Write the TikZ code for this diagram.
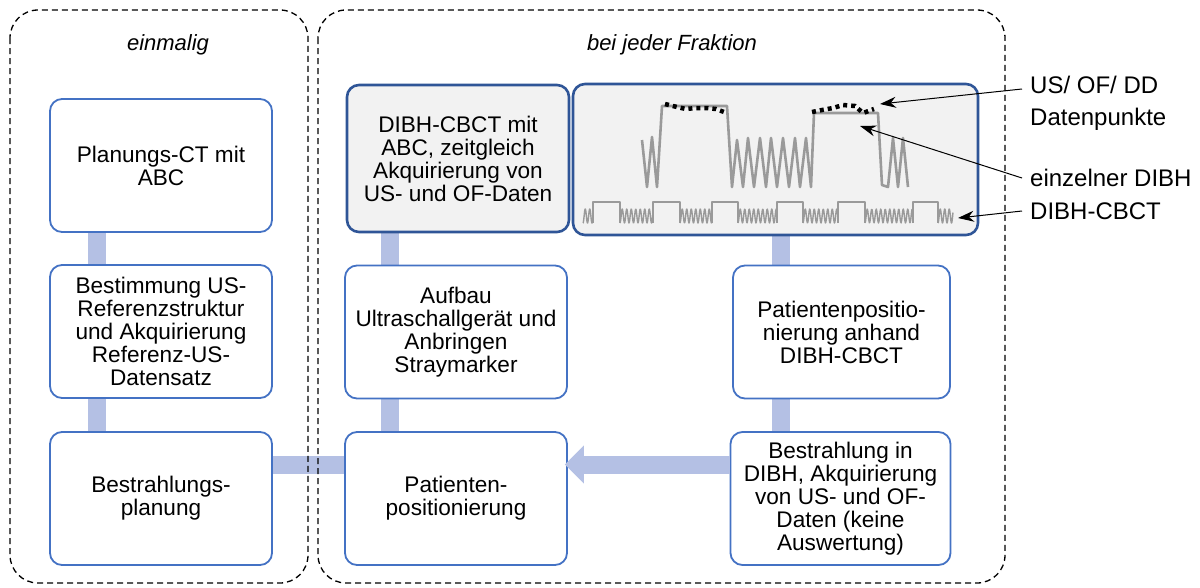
\documentclass[tikz,border=0pt]{standalone}
\usepackage{fontspec}
\setmainfont{Liberation Sans}
\usetikzlibrary{arrows.meta}
\definecolor{boxblue}{HTML}{4472C4}
\definecolor{darkblue}{HTML}{2F5597}
\definecolor{linkblue}{HTML}{B4C0E4}
\definecolor{panelgray}{HTML}{F2F2F2}
\definecolor{wavegray}{HTML}{9A9A9A}
\pgfdeclarelayer{background}
\pgfsetlayers{background,main}
\tikzset{
  container/.style={draw=black, line width=1.3pt, dash pattern=on 6pt off 4pt, rounded corners=28pt},
  stepbox/.style={draw=boxblue, line width=1.8pt, fill=white, rounded corners=12pt, align=center, inner sep=0pt,
    minimum width=222pt, minimum height=133pt, font=\fontsize{22.6}{23}\selectfont},
  keybox/.style={stepbox, draw=darkblue, line width=2.6pt, fill=panelgray},
  link/.style={draw=linkblue, line width=18pt},
  fatarrow/.style={draw=linkblue, line width=18pt, -{Triangle[width=37pt,length=19pt]}},
  title/.style={font=\fontsize{22}{26}\selectfont\itshape},
  lbl/.style={font=\fontsize{24}{32}\selectfont, anchor=west, align=left, inner sep=0pt},
  pointer/.style={draw=black, line width=1pt, -{Stealth[length=16pt,width=11pt]}},
  wave/.style={draw=wavegray, line width=2.6pt, line join=round},
  cbct/.style={draw=wavegray, line width=1.4pt, line join=round},
  dots/.style={draw=black, line width=4.5pt, dash pattern=on 4pt off 4pt}
}
\begin{document}
\begin{tikzpicture}[x=1pt,y=-1pt]
\useasboundingbox (0,0) rectangle (1200,587);

% containers
\draw[container] (10,10) rectangle (308,583);
\draw[container] (318,10) rectangle (1005,583);
\node[title] (t1) at (168,45) {einmalig};
\node[title] (t2) at (672,45) {bei jeder Fraktion};

% left column
\node[stepbox] (plan) at (161,165.5) {Planungs-CT mit\\ABC};
\node[stepbox] (ref) at (161,331.5) {Bestimmung US-\\Referenzstruktur\\und Akquirierung\\Referenz-US-\\Datensatz};
\node[stepbox] (bplan) at (161,498.5) {Bestrahlungs-\\planung};

% middle column
\node[keybox, minimum height=147pt] (cbct) at (458,158.5) {DIBH-CBCT mit\\ABC, zeitgleich\\Akquirierung von\\US- und OF-Daten};
\node[stepbox] (aufbau) at (456,332) {Aufbau\\Ultraschallgerät und\\Anbringen\\Straymarker};
\node[stepbox] (ppos) at (456,498.5) {Patienten-\\positionierung};

% right column
\node[keybox, minimum width=405pt, minimum height=151pt] (wavebox) at (775.5,159.5) {};
\node[stepbox, minimum width=217pt] (ppos2) at (841.5,332) {Patientenpositio-\\nierung anhand\\DIBH-CBCT};
\node[stepbox, minimum width=220pt] (best) at (840.5,498.5) {Bestrahlung in\\DIBH, Akquirierung\\von US- und OF-\\Daten (keine\\Auswertung)};

% connectors
\coordinate (xl) at (97,0);
\coordinate (xm) at (390,0);
\coordinate (xr) at (781,0);
\begin{pgfonlayer}{background}
\fill[white] (0,0) rectangle (1200,587);
\draw[link] (plan.south -| xl) -- (ref.north -| xl);
\draw[link] (ref.south -| xl) -- (bplan.north -| xl);
\draw[link] (cbct.south -| xm) -- (aufbau.north -| xm);
\draw[link] (aufbau.south -| xm) -- (ppos.north -| xm);
\draw[link] (wavebox.south -| xr) -- (ppos2.north -| xr);
\draw[link] (ppos2.south -| xr) -- (best.north -| xr);
\draw[link] ([yshift=34]bplan.east) -- ([yshift=34]ppos.west);
\end{pgfonlayer}
\draw[fatarrow, shorten >=-3pt] ([yshift=34]best.west) -- ([yshift=34]ppos.east);

% waveform
\draw[wave] (642,140) -- (647,187) -- (652,137) -- (657,187) -- (662,106) -- (727,106) -- (732,187)
  -- (737,140) -- (743,187) -- (748,138) -- (754,187) -- (760,138) -- (766,187) -- (771,138) -- (777,187)
  -- (783,138) -- (789,187) -- (795,138) -- (800,187) -- (806,138) -- (811,187) -- (814,113) -- (878,113)
  -- (882,185) -- (888,187) -- (893,138) -- (898,187) -- (903,138) -- (908,187);
\draw[dots] (665,104) -- (677,107) -- (686,109) -- (696,108) -- (706,108) -- (716,109) -- (724,112);
\draw[dots] (812,112) -- (822,110) -- (833,108) -- (843,105) -- (855,106) -- (863,113) -- (874,109);
\foreach \a/\b in {583/593,620/653,680/712,738/777,803/838,865/913,938/953}
  \draw[cbct] plot[domain=\a:\b, samples=90] (\x,{216+7*cos(80*(\x-\a))});
\foreach \a/\b in {593/620,653/680,712/738,777/803,838/865,913/938}
  \draw[cbct] (\a,223) -- (\a,202) -- (\b,202) -- (\b,223);

% labels
\node[lbl] (l1) at (1030,103) {US/ OF/ DD\\Datenpunkte};
\node[lbl] (l2) at (1030,178) {einzelner DIBH};
\node[lbl] (l3) at (1030,211) {DIBH-CBCT};
\coordinate (p1) at (880,104);
\coordinate (p2) at (860,126);
\coordinate (p3) at (958,218);
\draw[pointer] (1022,89) -- (p1);
\draw[pointer] ([xshift=-8]l2.west) -- (p2);
\draw[pointer] ([xshift=-8]l3.west) -- (p3);
\end{tikzpicture}
\end{document}
